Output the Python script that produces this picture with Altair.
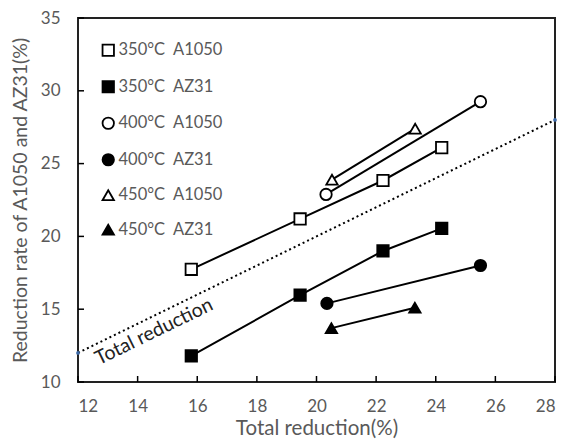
import altair as alt
import pandas as pd

series_names = ["350°C\u00a0\u00a0A1050", "350°C\u00a0\u00a0AZ31", "400°C\u00a0\u00a0A1050",
                "400°C\u00a0\u00a0AZ31", "450°C\u00a0\u00a0A1050", "450°C\u00a0\u00a0AZ31"]
x_350_a1050 = [15.8, 19.45, 22.23, 24.2]
y_350_a1050 = [17.74, 21.2, 23.84, 26.1]
x_350_az31 = [15.8, 19.45, 22.23, 24.2]
y_350_az31 = [11.8, 15.96, 19.0, 20.55]
x_400_a1050 = [20.32, 25.5]
y_400_a1050 = [22.88, 29.25]
x_400_az31 = [20.35, 25.5]
y_400_az31 = [15.4, 18.0]
x_450_a1050 = [20.52, 23.31]
y_450_a1050 = [23.9, 27.4]
x_450_az31 = [20.5, 23.3]
y_450_az31 = [13.7, 15.1]
ref_x = [12, 28]
ref_y = [12, 28]
x_ticks = [12, 14, 16, 18, 20, 22, 24, 26, 28]
y_ticks = [10, 15, 20, 25, 30, 35]
shapes = ["square", "square", "circle", "circle", "triangle-up", "triangle-up"]
fills = ["white", "black", "white", "black", "white", "black"]
strokes = ["black"] * 6

rows = []
for name, xs, ys in zip(series_names,
                        [x_350_a1050, x_350_az31, x_400_a1050, x_400_az31, x_450_a1050, x_450_az31],
                        [y_350_a1050, y_350_az31, y_400_a1050, y_400_az31, y_450_a1050, y_450_az31]):
    for a, b in zip(xs, ys):
        rows.append({"series": name, "x": a, "y": b})
df = pd.DataFrame(rows)
ref = pd.DataFrame({"x": ref_x, "y": ref_y})
lab = pd.DataFrame({"x": [14.55], "y": [13.45], "t": ["Total reduction"]})
xt = pd.DataFrame({"v": x_ticks})
yt = pd.DataFrame({"v": y_ticks})

FONT = "Lato"
GRAY = "#595959"
xs = alt.Scale(domain=[12, 28], nice=False, zero=False)
ys = alt.Scale(domain=[10, 35], nice=False, zero=False)

xaxis = alt.Axis(values=x_ticks, title="Total reduction(%)", domain=False, ticks=False, tickSize=0,
                 grid=False, labelPadding=16, titlePadding=4, labelFontSize=17, titleFontSize=20.5,
                 labelColor=GRAY, titleColor=GRAY, labelFont=FONT, titleFont=FONT, titleFontWeight="normal")
yaxis = alt.Axis(values=y_ticks, title="Reduction rate of A1050 and AZ31(%)", domain=False, ticks=False,
                 tickSize=0, grid=False, labelPadding=18, titlePadding=10, labelFontSize=17, titleFontSize=19.5,
                 labelColor=GRAY, titleColor=GRAY, labelFont=FONT, titleFont=FONT, titleFontWeight="normal")

leg = alt.Legend(title=None, orient="none", legendX=22, legendY=24, symbolStrokeColor="black",
                 symbolStrokeWidth=1.8)

refline = alt.Chart(ref).mark_line(color="black", strokeDash=[2, 3], strokeWidth=2).encode(
    x=alt.X("x:Q", scale=xs, axis=xaxis), y=alt.Y("y:Q", scale=ys, axis=yaxis))
refdots = alt.Chart(ref).mark_point(filled=True, color="#3d6aa8", size=14, shape="circle", opacity=1).encode(
    x=alt.X("x:Q", scale=xs), y=alt.Y("y:Q", scale=ys))
reflabel = alt.Chart(lab).mark_text(angle=334, font=FONT, fontSize=19.5, color="#222222").encode(
    x=alt.X("x:Q", scale=xs), y=alt.Y("y:Q", scale=ys), text="t:N")

lines = alt.Chart(df).mark_line(color="black", strokeWidth=2).encode(
    x=alt.X("x:Q", scale=xs), y=alt.Y("y:Q", scale=ys), detail="series:N")
points = alt.Chart(df).mark_point(size=130, strokeWidth=1.8, opacity=1).encode(
    x=alt.X("x:Q", scale=xs), y=alt.Y("y:Q", scale=ys),
    shape=alt.Shape("series:N", scale=alt.Scale(domain=series_names, range=shapes), legend=leg),
    fill=alt.Fill("series:N", scale=alt.Scale(domain=series_names, range=fills), legend=leg),
    stroke=alt.Stroke("series:N", scale=alt.Scale(domain=series_names, range=strokes), legend=leg),
)

xticks = alt.Chart(xt).mark_rule(color="black", strokeWidth=1.5).encode(
    x=alt.X("v:Q", scale=xs), y=alt.value(364), y2=alt.value(358))
yticks = alt.Chart(yt).mark_rule(color="black", strokeWidth=1.5).encode(
    y=alt.Y("v:Q", scale=ys), x=alt.value(0), x2=alt.value(6))

chart = alt.layer(refline, refdots, reflabel, lines, points, xticks, yticks).properties(
    width=477, height=364,
    autosize=alt.AutoSizeParams(type="none"),
    padding={"left": 70, "top": 10, "right": 2, "bottom": 58},
).configure_view(stroke="#222222", strokeWidth=2).configure_legend(
    labelFont=FONT, labelFontSize=16.5, labelColor=GRAY, symbolSize=130, symbolStrokeColor="black",
    symbolStrokeWidth=1.8, rowPadding=16.5, labelOffset=2, padding=0
)

chart.save("out.html", embed_options={"renderer": "svg", "actions": False})
